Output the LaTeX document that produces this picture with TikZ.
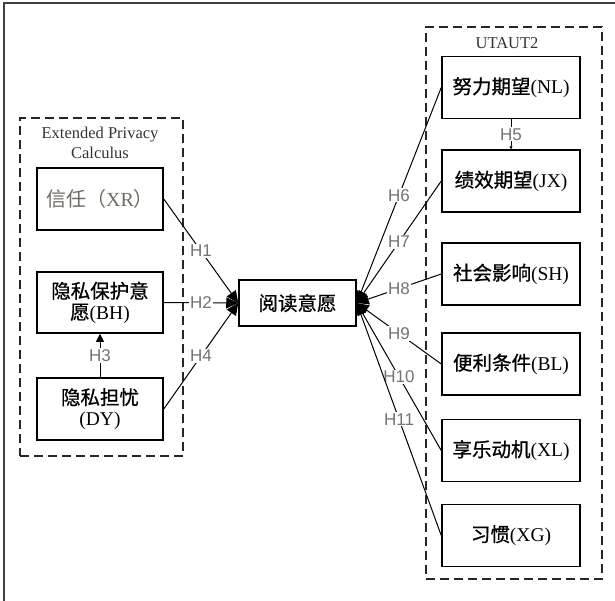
\documentclass[tikz,border=0pt]{standalone}
\usepackage{fontspec}
\setmainfont{Liberation Serif}
\newfontfamily\cjk[FakeBold=0.8]{Noto Sans CJK SC}
\newfontfamily\cjklight{Noto Sans CJK SC}
\newfontfamily\hfont{Liberation Sans}
\usetikzlibrary{arrows.meta, positioning}

\begin{document}
\begin{tikzpicture}[x=1pt, y=-1pt,
        construct/.style={rectangle, draw=black, line width=1.5pt, fill=white, minimum width=126pt, minimum height=62pt, align=center, font=\fontsize{19.5}{21}\selectfont, inner sep=0pt},
        rconstruct/.style={construct, minimum width=138pt},
        group/.style={rectangle, draw=black!85, line width=1.6pt, dash pattern=on 9pt off 5pt},
        grouptitle/.style={font=\fontsize{16.5}{20}\selectfont, align=center, text=black!80},
        hyp/.style={-{Triangle[length=12pt, width=11pt]}, line width=1pt, draw=black},
        hlabel/.style={font=\hfont\fontsize{17}{17}\selectfont, text=black!55, fill=white, inner sep=1pt}
    ]
        \useasboundingbox (0,0) rectangle (615,600);

        % Outer frame (cut off at right and bottom)
        \draw[line width=1.5pt, black!75] (4,610) -- (4,3) -- (625,3);

        % Group boundaries
        \node[group, minimum width=163pt, minimum height=338pt] (epc) at (101.5,287) {};
        \node[grouptitle] (epctitle) at (100,143) {Extended Privacy\\Calculus};
        \node[group, minimum width=176pt, minimum height=552pt] (utaut) at (514,303) {};
        \node[grouptitle] (utauttitle) at (507,43) {UTAUT2};

        % LEFT: privacy calculus
        \node[construct, font=\fontsize{20}{21}\selectfont, text={rgb,255:red,112;green,108;blue,100}] (xr) at (100,199) {{\cjklight 信任（}XR{\cjklight ）}};
        \node[construct, minimum height=61pt] (bh) at (100,302.5) {{\cjk 隐私保护意}\\{\cjk 愿}(BH)};
        \node[construct] (dy) at (100,409) {{\cjk 隐私担忧}\\(DY)};

        % CENTER
        \node[construct, minimum width=117pt, minimum height=46pt] (yd) at (297.5,303) {{\cjk 阅读意愿}};

        % RIGHT: UTAUT2
        \node[rconstruct] (nl) at (511,87.5) {{\cjk 努力期望}(NL)};
        \node[rconstruct] (jx) at (511,181) {{\cjk 绩效期望}(JX)};
        \node[rconstruct] (sh) at (511,274) {{\cjk 社会影响}(SH)};
        \node[rconstruct] (bl) at (511,364) {{\cjk 便利条件}(BL)};
        \node[rconstruct] (xl) at (511,450.5) {{\cjk 享乐动机}(XL)};
        \node[rconstruct] (xg) at (511,535.5) {{\cjk 习惯}(XG)};

        % Hypotheses
        \draw[hyp] (xr.east) -- (yd.west) node[midway, hlabel] {H1};
        \draw[hyp] (bh.east) -- (yd.west) node[midway, hlabel] {H2};
        \draw[hyp, -{Triangle[length=8pt, width=8pt]}] (dy.north) -- (bh.south) node[midway, hlabel] {H3};
        \draw[hyp] (dy.east) -- (yd.west) node[midway, hlabel] {H4};
        \draw[hyp, -{Triangle[length=3pt, width=3pt]}] (nl.south) -- (jx.north) node[midway, hlabel] {H5};

        \draw[hyp] (nl.west) -- (yd.east) node[midway, hlabel] {H6};
        \draw[hyp] (jx.west) -- (yd.east) node[midway, hlabel] {H7};
        \draw[hyp] (sh.west) -- (yd.east) node[midway, hlabel] {H8};
        \draw[hyp] (bl.west) -- (yd.east) node[midway, hlabel] {H9};
        \draw[hyp] (xl.west) -- (yd.east) node[midway, hlabel] {H10};
        \draw[hyp] (xg.west) -- (yd.east) node[midway, hlabel] {H11};
    \end{tikzpicture}
\end{document}
